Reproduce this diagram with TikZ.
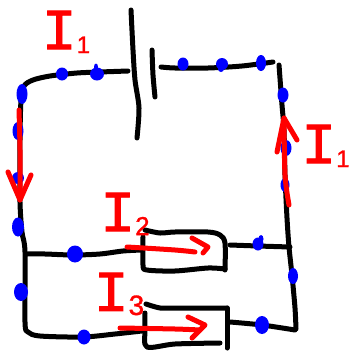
\documentclass[tikz,border=0pt]{standalone}
\usepackage{fontspec}
\newfontfamily\handfont[FakeBold=1.4]{Liberation Mono}
\newfontfamily\subfont[FakeBold=1.2]{Liberation Sans}
\newcommand{\handlabel}[2]{{\handfont\fontsize{58}{58}\selectfont I}{\subfont\fontsize{#2}{#2}\selectfont\raisebox{-4pt}{#1}}}
\tikzset{
  wire/.style={line width=5pt,black,line cap=round,line join=round},
  current/.style={line width=5pt,red,line cap=round,line join=round},
  charge/.style={fill=blue,draw=none},
  curlabel/.style={red,inner sep=0pt,anchor=center}
}
\begin{document}
\begin{tikzpicture}[x=1pt,y=-1pt]
\useasboundingbox (0,0) rectangle (350,351);
% battery
\draw[wire] plot[smooth] coordinates {(131,10) (133,50) (135,80) (139,108) (137,138)};
\draw[wire] plot[smooth] coordinates {(152,50) (153,75) (155,97)};
% main wires
\draw[wire] plot[smooth] coordinates {(128,71) (100,72) (77,73) (50,76) (33,80) (24,86) (21,100) (20,140) (20,202) (22,232) (25,252) (25,322) (28,332) (40,336) (83,337) (115,334) (142,331)};
\draw[wire] plot[smooth] coordinates {(161,67) (175,68) (208,68) (242,66) (273,62)};
\draw[wire] plot[smooth] coordinates {(279,65) (282,105) (284,130) (285,175) (287,218) (289,247) (292,275) (295,308) (296,329)};
\draw[wire] plot[smooth] coordinates {(27,254) (45,254) (73,255) (100,254) (123,251) (142,250)};
\draw[wire] plot[smooth] coordinates {(230,245) (258,246) (290,247)};
\draw[wire] plot[smooth] coordinates {(230,322) (262,325) (295,330)};
% resistors
\draw[wire] plot[smooth] coordinates {(145,230) (160,233) (175,232) (208,232) (220,235) (225,243) (225,270)};
\draw[wire] plot[smooth] coordinates {(225,269) (208,268) (175,271) (147,270) (143,265) (143,237)};
\draw[wire] plot[smooth] coordinates {(146,304) (160,308) (175,308) (227,308)};
\draw[wire] (227,308) -- (227,348);
\draw[wire] plot[smooth] coordinates {(220,343) (175,344) (147,347) (145,330) (145,313)};
% charges
\fill[charge] (62,74) ellipse (6 and 6.5);
\fill[charge] (97,74) ellipse (7 and 6.5);
\fill[charge] (96,67) ellipse (2 and 3.5);
\fill[charge] (22,94) ellipse (5.5 and 10);
\fill[charge] (18,131) ellipse (5.5 and 9);
\fill[charge] (18,178) ellipse (6 and 6);
\fill[charge] (18,227) ellipse (6 and 9.5);
\fill[charge] (75,254) ellipse (8 and 8.5);
\fill[charge] (21,292) ellipse (7 and 9);
\fill[charge] (84,337) ellipse (6.5 and 7.5);
\fill[charge] (183,64) ellipse (5.5 and 6.5);
\fill[charge] (222,64) ellipse (6 and 6);
\fill[charge] (221,69) ellipse (3 and 3);
\fill[charge] (261,63) ellipse (5 and 8);
\fill[charge] (283,95) ellipse (5.5 and 7.5);
\fill[charge] (286,148) ellipse (5.5 and 8);
\fill[charge] (285,185) ellipse (4.5 and 7);
\fill[charge] (258,244) ellipse (5.5 and 6.5);
\fill[charge] (261,239) ellipse (2.5 and 4);
\fill[charge] (293,276) ellipse (5 and 8);
\fill[charge] (262,325) ellipse (7 and 9);
% currents
\draw[current] plot[smooth] coordinates {(19,110) (20,150) (20,200)};
\draw[current] (8,172) -- (20,200) -- (31,175);
\draw[current] plot[smooth] coordinates {(289,205) (285,175) (284,118)};
\draw[current] (277,152) -- (284,118) -- (297,140);
\draw[current] plot[smooth] coordinates {(127,247) (175,250) (195,252)};
\draw[current] (192,238) -- (208,247) -- (203,253);
\draw[current] plot[smooth] coordinates {(120,328) (175,329) (200,330)};
\draw[current] (188,317) -- (205,325) -- (192,338);
% labels
\node[curlabel] (iA) at (66,32) {\handlabel{1}{24}};
\node[curlabel] (iB) at (325.5,146) {\handlabel{1}{24}};
\node[curlabel] (iC) at (125,214) {\handlabel{2}{26}};
\node[curlabel] (iD) at (119,294) {\handlabel{3}{28}};
\end{tikzpicture}
\end{document}
